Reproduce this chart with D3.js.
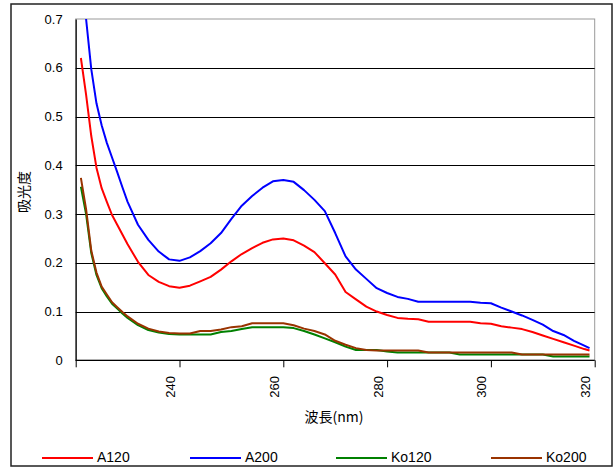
<!DOCTYPE html>
<html><head><meta charset="utf-8">
<script src="https://cdn.jsdelivr.net/npm/d3@7"></script>
<style>body{margin:0;background:#fff}svg{display:block}</style>
</head><body>
<svg id="c" width="614" height="468"></svg>
<script>
const wavelengths = [221,222,223,224,225,226,227,228,229,230,232,234,236,238,240,242,244,246,248,250,252,254,256,258,260,262,264,266,268,270,272,274,276,278,280,282,284,286,288,290,292,294,296,298,300,302,304,306,308,310,312,314,316,318,319];
const A120 = [0.62,0.545,0.46,0.395,0.353,0.325,0.298,0.278,0.258,0.238,0.202,0.175,0.161,0.152,0.149,0.153,0.162,0.171,0.186,0.203,0.218,0.230,0.241,0.248,0.25,0.246,0.235,0.222,0.199,0.176,0.14,0.125,0.11,0.1,0.093,0.087,0.085,0.084,0.079,0.079,0.079,0.079,0.079,0.076,0.075,0.07,0.067,0.064,0.058,0.051,0.044,0.037,0.03,0.023,0.02];
const A200 = [0.79,0.70,0.597,0.527,0.482,0.446,0.416,0.386,0.355,0.325,0.278,0.247,0.223,0.207,0.204,0.211,0.224,0.24,0.261,0.29,0.317,0.337,0.354,0.367,0.37,0.366,0.349,0.329,0.306,0.261,0.213,0.186,0.167,0.148,0.138,0.13,0.126,0.12,0.12,0.12,0.12,0.12,0.12,0.118,0.117,0.108,0.1,0.092,0.083,0.073,0.06,0.052,0.04,0.03,0.025];
const Ko120 = [0.356,0.30,0.22,0.175,0.148,0.131,0.116,0.106,0.096,0.087,0.072,0.062,0.057,0.054,0.053,0.053,0.053,0.053,0.058,0.06,0.064,0.068,0.068,0.068,0.068,0.066,0.06,0.053,0.045,0.037,0.028,0.021,0.021,0.021,0.018,0.016,0.016,0.016,0.016,0.016,0.016,0.012,0.012,0.012,0.012,0.012,0.012,0.012,0.012,0.012,0.008,0.008,0.008,0.008,0.008];
const Ko200 = [0.374,0.31,0.225,0.18,0.151,0.135,0.119,0.109,0.099,0.09,0.075,0.065,0.059,0.056,0.055,0.055,0.06,0.06,0.063,0.068,0.07,0.076,0.076,0.076,0.076,0.072,0.065,0.06,0.053,0.04,0.032,0.025,0.021,0.02,0.02,0.02,0.02,0.02,0.016,0.016,0.016,0.016,0.016,0.016,0.016,0.016,0.016,0.012,0.012,0.012,0.012,0.012,0.012,0.012,0.012];
const seriesNames = ["A120","A200","Ko120","Ko200"];
const seriesColors = ["#ff0000","#0000ff","#008000","#993300"];
const yTicks = [0,0.1,0.2,0.3,0.4,0.5,0.6,0.7];
const xTicks = [220,240,260,280,300,320];
const xLabels = [240,260,280,300,320];

const svg = d3.select("#c");
const L = 75.7, R = 594.7, T = 19, B = 360.3;
const x = d3.scaleLinear().domain([220,320]).range([L,R]);
const y = d3.scaleLinear().domain([0,0.7]).range([B,T]);

// outer border
svg.append("rect").attr("x",11).attr("y",4).attr("width",601).attr("height",462)
  .attr("fill","#fff").attr("stroke","#222").attr("stroke-width",1.5);

// plot frame (gray)
svg.append("rect").attr("x",L).attr("y",T).attr("width",R-L).attr("height",B-T)
  .attr("fill","none").attr("stroke","#999").attr("stroke-width",1);

// gridlines
svg.append("g").selectAll("line").data(yTicks.filter(v=>v>0 && v<0.7)).join("line")
  .attr("x1",L).attr("x2",R).attr("y1",d=>Math.round(y(d))+0.5).attr("y2",d=>Math.round(y(d))+0.5)
  .attr("stroke","#000").attr("stroke-width",1);

// axes
const yAxis = d3.axisLeft(y).tickValues(yTicks).tickSize(0).tickPadding(13)
  .tickFormat(d=>d===0?"0":d3.format(".1f")(d));
const gy = svg.append("g").attr("transform",`translate(${L},0)`).call(yAxis);
gy.select(".domain").attr("stroke","#000").attr("stroke-width",1.2);
gy.selectAll("text").attr("font-family","Liberation Sans, Arial, sans-serif").attr("font-size",13).attr("fill","#000");

const xAxis = d3.axisBottom(x).tickValues(xTicks).tickSize(7).tickFormat("");
const gx = svg.append("g").attr("transform",`translate(0,${B})`).call(xAxis);
gx.select(".domain").attr("stroke","#000").attr("stroke-width",1.2).attr("d",`M${L},0H${R}`);
gx.selectAll("line").attr("stroke","#000");

svg.append("g").selectAll("text").data(xLabels).join("text")
  .attr("transform",d=>`translate(${x(d)-8},376) rotate(-90)`)
  .attr("text-anchor","end").attr("dominant-baseline","middle")
  .attr("font-family","Liberation Sans, Arial, sans-serif").attr("font-size",13)
  .text(d=>d);

// titles
svg.append("text").attr("x",334).attr("y",422).attr("text-anchor","middle")
  .attr("font-family","Noto Sans CJK JP").attr("font-size",14).text("波長(nm)");
svg.append("text").attr("transform","translate(25,192) rotate(-90)").attr("text-anchor","middle")
  .attr("dominant-baseline","middle")
  .attr("font-family","Noto Sans CJK JP").attr("font-size",14).text("吸光度");

// lines
svg.append("defs").append("clipPath").attr("id","clip").append("rect")
  .attr("x",L).attr("y",T).attr("width",R-L).attr("height",B-T);
const data = [A120,A200,Ko120,Ko200];
const line = d3.line().x((d,i)=>x(wavelengths[i])).y(d=>y(d));
const order = [0,1,2,3];
svg.append("g").attr("clip-path","url(#clip)").selectAll("path").data(order).join("path")
  .attr("d",i=>line(data[i])).attr("fill","none").attr("stroke",i=>seriesColors[i])
  .attr("stroke-width",2).attr("stroke-linejoin","round");

// legend
const legX = [42,190,336,491];
const lg = svg.append("g").selectAll("g").data(seriesNames).join("g")
  .attr("transform",(d,i)=>`translate(${legX[i]},458)`);
lg.append("line").attr("x1",0).attr("x2",51).attr("y1",0).attr("y2",0)
  .attr("stroke",(d,i)=>seriesColors[i]).attr("stroke-width",2);
lg.append("text").attr("x",55).attr("y",0).attr("dominant-baseline","middle")
  .attr("font-family","Liberation Sans, Arial, sans-serif").attr("font-size",14).text(d=>d);
</script>
</body></html>
